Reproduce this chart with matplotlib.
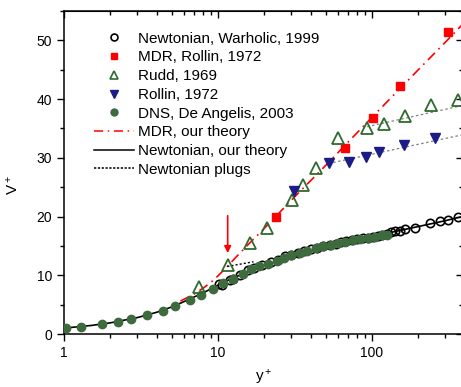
import numpy as np
import matplotlib
matplotlib.use('Agg')
import matplotlib.pyplot as plt
from matplotlib.ticker import MultipleLocator, LogLocator, NullFormatter, FixedLocator, FixedFormatter

plt.rcParams.update({
    'font.family': ['Liberation Sans', 'DejaVu Sans'],
    'mathtext.fontset': 'custom',
    'mathtext.rm': 'Liberation Sans',
    'mathtext.it': 'Liberation Sans',
})

# Newtonian, Warholic 1999 (open circles)
warholic_y = [10.1, 10.6, 12.0, 12.5, 13.9, 15.7, 17.1, 19.2, 22.0, 24.6, 27.2, 30, 33, 36, 40, 44, 48, 53, 58,
              63, 68, 74, 80, 87, 94, 101, 109, 117, 125, 133, 142, 152, 164, 190, 238, 277, 313, 363]
warholic_v = [8.45, 8.35, 9.2, 9.3, 10.05, 10.9, 11.2, 11.75, 12.2, 12.6, 13.2, 13.4, 13.8, 14.1, 14.4, 14.7, 15.0, 15.2, 15.4,
              15.6, 15.8, 16.0, 16.1, 16.3, 16.4, 16.6, 16.7, 16.9, 17.1, 17.3, 17.5, 17.6, 17.9, 18.1, 18.9, 19.2, 19.4, 20.0]

# MDR, Rollin 1972 (red squares)
mdr_y = [23.8, 67.1, 101.5, 151, 310]
mdr_v = [20.0, 31.6, 36.7, 42.2, 51.4]

# Rudd 1969 (open triangles)
rudd_y = [7.56, 11.56, 16.1, 20.7, 30.1, 35.8, 43.3, 59.9, 92.8, 119.6, 163, 243, 360]
rudd_v = [8.06, 11.75, 15.45, 18.1, 22.8, 25.3, 28.2, 33.3, 35.15, 35.7, 37.1, 39.0, 39.9]

# Rollin 1972 (inverted triangles)
rollin_y = [31.3, 52.8, 70.5, 91.4, 111, 161, 255]
rollin_v = [24.4, 29.1, 29.35, 30.2, 31.05, 32.1, 33.3]

# DNS, De Angelis 2003 (filled circles)
dns_y = [1.03, 1.29, 1.77, 2.23, 2.71, 3.46, 4.37, 5.23, 6.55, 7.79, 9.28, 10.8, 12.6, 14.6, 16.5, 18.5, 21, 24, 27,
         30, 34, 38, 43, 48, 54, 60, 67, 75, 84, 94, 105, 116, 125]
dns_v = [1.07, 1.24, 1.7, 2.1, 2.6, 3.24, 4.0, 4.77, 5.85, 6.7, 7.67, 8.7, 9.4, 10.3, 11.0, 11.5, 12.0, 12.5, 13.0,
         13.4, 13.8, 14.2, 14.6, 14.9, 15.2, 15.5, 15.7, 16.0, 16.2, 16.4, 16.6, 16.8, 16.9]

# MDR, our theory
mdr_th_y = [5.7, 7, 8, 9, 10, 11.3, 13, 15, 20, 30, 50, 100, 200, 300, 400]
mdr_th_v = [5.6, 6.8, 7.8, 8.8, 9.9, 11.3, 13.0, 14.7, 18.0, 22.8, 28.7, 36.9, 45.0, 49.7, 53.1]

# Newtonian, our theory
newt_th_y = [1, 1.5, 2, 3, 4, 5, 6, 7, 8, 10, 12, 15, 20, 30, 50, 70, 100, 150, 200, 300, 400]
newt_th_v = [1.0, 1.45, 1.9, 2.8, 3.7, 4.6, 5.5, 6.3, 7.0, 8.3, 9.3, 10.4, 11.7, 13.2, 14.8, 15.7, 16.6, 17.6, 18.3, 19.3, 20.1]

# Newtonian plugs
plug0_y, plug0_v = [11.5, 17.0], [11.5, 12.3]
plug1_y, plug1_v = [93, 400], [35.3, 39.0]
plug2_y, plug2_v = [56, 400], [29.2, 34.0]

# arrow
arrow_x, arrow_top, arrow_tip = 11.56, 20.6, 13.3

green = '#2f6a2f'
dns_green = '#3d6b3d'
navy = '#1c1c86'

fig = plt.figure(figsize=(4.61, 3.87), dpi=100)
ax = fig.add_axes([64/461, 53/387, 399/461, 323/387])

ax.plot(plug1_y, plug1_v, ls=(0, (2, 2)), color='gray', lw=0.9)
ax.plot(plug2_y, plug2_v, ls=(0, (2, 2)), color='gray', lw=0.9)
ax.plot(newt_th_y, newt_th_v, color='black', lw=1.2)
ax.plot(warholic_y, warholic_v, 'o', mfc='none', mec='black', mew=1.2, ms=6, ls='none', zorder=3)
ax.plot(dns_y, dns_v, 'o', color=dns_green, ms=6, mec=dns_green, ls='none', zorder=4)
ax.plot(mdr_th_y, mdr_th_v, color='red', lw=1.2, ls=(0, (6, 3, 1, 3)), zorder=2)
ax.plot(plug0_y, plug0_v, ls=(0, (1.5, 1.5)), color='black', lw=1.0)
ax.plot(mdr_y, mdr_v, 's', color='red', ms=6, ls='none', zorder=5)
ax.plot(rudd_y, rudd_v, '^', mfc='none', mec=green, mew=1.3, ms=8, ls='none', zorder=5)
ax.plot(rollin_y, rollin_v, 'v', color=navy, ms=7, ls='none', zorder=5)

ax.annotate('', xy=(arrow_x, arrow_tip), xytext=(arrow_x, arrow_top),
            arrowprops=dict(arrowstyle='-|>', color='red', lw=1.2, mutation_scale=10))

ax.set_xscale('log')
ax.set_xlim(1, 390)
ax.set_ylim(0, 55)
ax.xaxis.set_major_locator(FixedLocator([1, 10, 100]))
ax.xaxis.set_major_formatter(FixedFormatter(['1', '10', '100']))
ax.xaxis.set_minor_locator(LogLocator(base=10, subs=np.arange(2, 10)))
ax.xaxis.set_minor_formatter(NullFormatter())
ax.yaxis.set_major_locator(MultipleLocator(10))
ax.yaxis.set_minor_locator(MultipleLocator(5))
ax.tick_params(which='major', direction='out', length=5, width=1, labelsize=10)
ax.tick_params(which='minor', direction='out', length=3, width=1)
for s in ax.spines.values():
    s.set_linewidth(1.1)

top = ax.secondary_xaxis('top')
top.xaxis.set_major_locator(FixedLocator([1, 10, 100]))
top.xaxis.set_minor_locator(LogLocator(base=10, subs=np.arange(2, 10)))
top.tick_params(which='major', direction='in', length=5, width=1, labeltop=False)
top.tick_params(which='minor', direction='in', length=3, width=1)
right = ax.secondary_yaxis('right')
right.yaxis.set_major_locator(MultipleLocator(10))
right.yaxis.set_minor_locator(MultipleLocator(5))
right.tick_params(which='major', direction='in', length=5, width=1, labelright=False)
right.tick_params(which='minor', direction='in', length=3, width=1)

ax.set_xlabel('y$^+$', fontsize=11, labelpad=6)
ax.set_ylabel('V$^+$', fontsize=11, labelpad=4)
ax.yaxis.set_label_coords(-0.11, 0.46)

# legend
h = [
    plt.Line2D([], [], marker='o', mfc='none', mec='black', mew=1.2, ms=5, ls='none'),
    plt.Line2D([], [], marker='s', color='red', ms=5, ls='none'),
    plt.Line2D([], [], marker='^', mfc='none', mec=green, mew=1.2, ms=6, ls='none'),
    plt.Line2D([], [], marker='v', color=navy, ms=5.5, ls='none'),
    plt.Line2D([], [], marker='o', color=dns_green, ms=5, ls='none'),
    plt.Line2D([], [], color='red', lw=1.1, ls=(0, (6, 3, 1, 3))),
    plt.Line2D([], [], color='black', lw=1.1),
    plt.Line2D([], [], color='black', lw=1.1, ls=(0, (1.5, 1))),
]
labels = ['Newtonian, Warholic, 1999', 'MDR, Rollin, 1972', 'Rudd, 1969', 'Rollin, 1972',
          'DNS, De Angelis, 2003', 'MDR, our theory', 'Newtonian, our theory', 'Newtonian plugs']
ax.legend(h, labels, loc='upper left', bbox_to_anchor=(0.06, 0.955), frameon=False, fontsize=11,
          handlelength=2.6, handletextpad=0.3, labelspacing=0.31, borderaxespad=0)

fig.savefig('out.png', dpi=100)
